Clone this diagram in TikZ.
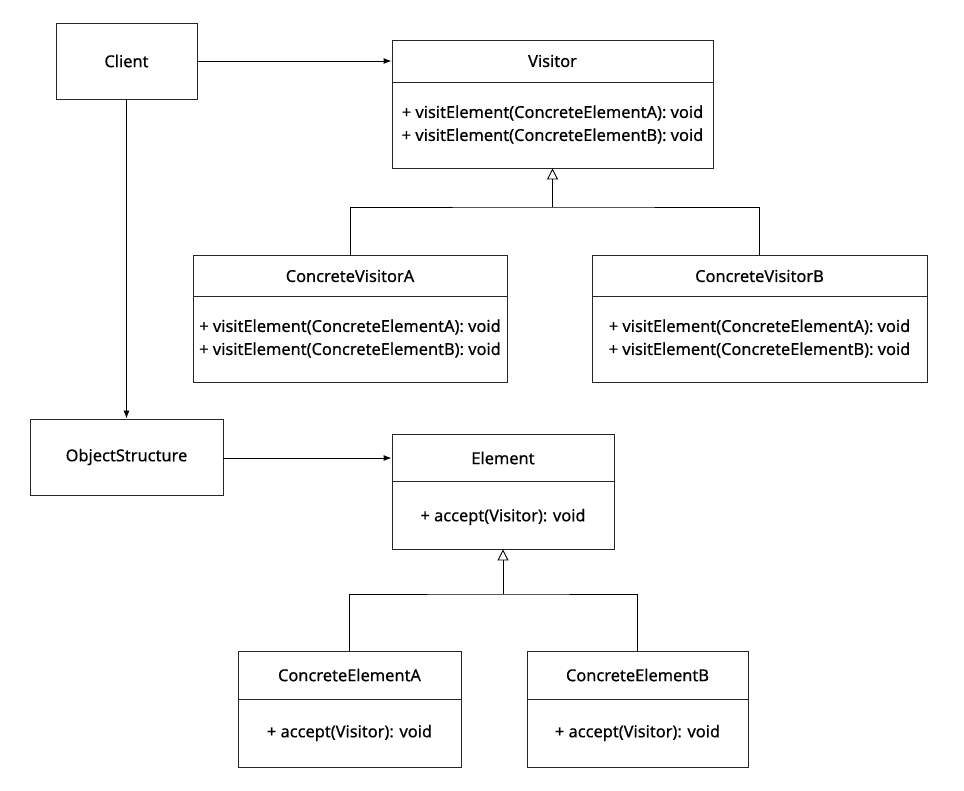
\documentclass[tikz,border=0pt]{standalone}
\usepackage{fontspec}
\setmainfont{Noto Sans}
\newfontfamily\umlfont{Noto Sans}[FakeBold=0.5]
\usetikzlibrary{arrows.meta}
\begin{document}
\begin{tikzpicture}[x=1pt,y=-1pt,
  box/.style={draw=black!85, line width=0.9pt, rectangle, inner sep=0pt},
  lbl/.style={font=\umlfont\fontsize{16.4}{23}\selectfont, inner sep=0pt, align=center},
  divider/.style={draw=black!85, line width=0.9pt},
  assoc/.style={draw=black, line width=0.9pt, -{Latex[length=8pt,width=6pt]}},
  inh/.style={draw=black, line width=0.9pt, -{Triangle[open,length=11pt,width=11pt]}},
  conn/.style={draw=black, line width=0.9pt}]
\useasboundingbox (0,0) rectangle (964,791);
% Client
\node[box, minimum width=141, minimum height=76] (client) at (126.5,61) {};
\node[lbl] (clientT) at (client.center) {Client};
% Visitor
\node[box, minimum width=321, minimum height=128] (visitor) at (552.5,104) {};
\draw[divider] (visitor.west |- 0,82) coordinate (vd1) -- (visitor.east |- 0,82) coordinate (vd2);
\node[lbl] (visitorT) at (552.5,61) {Visitor};
\node[lbl] (visitorB) at (552.5,124.5) {+ visitElement(ConcreteElementA): void\\+ visitElement(ConcreteElementB): void};
% ConcreteVisitorA
\node[box, minimum width=314, minimum height=127] (cva) at (350,318.5) {};
\draw[divider] (cva.west |- 0,296) coordinate (ad1) -- (cva.east |- 0,296) coordinate (ad2);
\node[lbl] (cvaT) at (350,276) {ConcreteVisitorA};
\node[lbl] (cvaB) at (350,338.5) {+ visitElement(ConcreteElementA): void\\+ visitElement(ConcreteElementB): void};
% ConcreteVisitorB
\node[box, minimum width=335, minimum height=127] (cvb) at (759.5,318.5) {};
\draw[divider] (cvb.west |- 0,296) coordinate (bd1) -- (cvb.east |- 0,296) coordinate (bd2);
\node[lbl] (cvbT) at (759.5,276) {ConcreteVisitorB};
\node[lbl] (cvbB) at (759.5,338.5) {+ visitElement(ConcreteElementA): void\\+ visitElement(ConcreteElementB): void};
% ObjectStructure
\node[box, minimum width=193, minimum height=76] (objs) at (126.5,457) {};
\node[lbl] (objsT) at (objs.center) {ObjectStructure};
% Element
\node[box, minimum width=222, minimum height=115] (elem) at (503,491.5) {};
\draw[divider] (elem.west |- 0,481) coordinate (ed1) -- (elem.east |- 0,481) coordinate (ed2);
\node[lbl] (elemT) at (503,458) {Element};
\node[lbl] (elemB) at (503,517) {+ accept(Visitor): void};
% ConcreteElementA
\node[box, minimum width=223, minimum height=116] (cea) at (349.5,709) {};
\draw[divider] (cea.west |- 0,699) coordinate (cad1) -- (cea.east |- 0,699) coordinate (cad2);
\node[lbl] (ceaT) at (349.5,675) {ConcreteElementA};
\node[lbl] (ceaB) at (349.5,733) {+ accept(Visitor): void};
% ConcreteElementB
\node[box, minimum width=221, minimum height=116] (ceb) at (637.5,709) {};
\draw[divider] (ceb.west |- 0,699) coordinate (cbd1) -- (ceb.east |- 0,699) coordinate (cbd2);
\node[lbl] (cebT) at (637.5,675) {ConcreteElementB};
\node[lbl] (cebB) at (637.5,733) {+ accept(Visitor): void};
% associations
\draw[assoc] (client.east) -- (client.east -| visitor.west);
\draw[assoc] (client.south) -- (objs.north);
\draw[assoc] (objs.east |- 0,458) -- (elem.west |- 0,458);
% inheritance Visitor
\coordinate (vj) at (visitor.south |- 0,207);
\draw[conn] (cva.north) |- (vj) -| (cvb.north);
\draw[inh] (vj) -- (visitor.south);
% inheritance Element
\coordinate (ej) at (elem.south |- 0,594);
\draw[conn] (cea.north) |- (ej) -| (ceb.north);
\draw[inh] (ej) -- (elem.south);
\end{tikzpicture}
\end{document}
